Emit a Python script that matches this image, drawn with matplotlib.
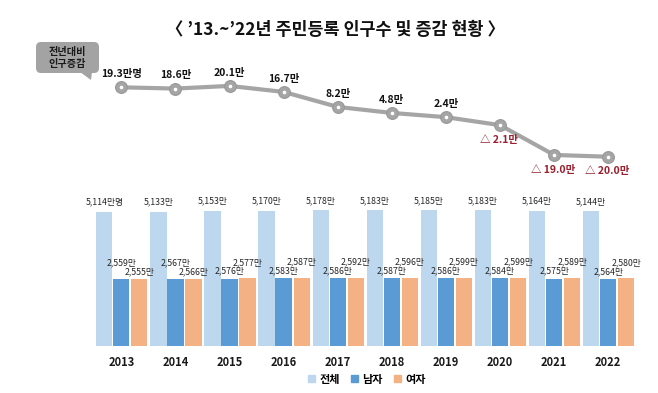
import matplotlib
matplotlib.use("Agg")
import matplotlib.pyplot as plt
from matplotlib.patches import FancyBboxPatch, Polygon, Patch
import numpy as np

plt.rcParams['font.family'] = ['Noto Sans CJK KR', 'DejaVu Sans']

years = ['2013', '2014', '2015', '2016', '2017', '2018', '2019', '2020', '2021', '2022']
change = [19.3, 18.6, 20.1, 16.7, 8.2, 4.8, 2.4, -2.1, -19.0, -20.0]
total = [5114, 5133, 5153, 5170, 5178, 5183, 5185, 5183, 5164, 5144]
male = [2559, 2567, 2576, 2583, 2586, 2587, 2586, 2584, 2575, 2564]
female = [2555, 2566, 2577, 2587, 2592, 2596, 2599, 2599, 2589, 2580]
series_names = ['전체', '남자', '여자']
title = '〈 \u201913.~\u201922년 주민등록 인구수 및 증감 현황 〉'
callout_lines = ['전년대비', '인구증감']

c_total = '#bdd7ee'
c_male = '#5b9bd5'
c_female = '#f4b183'
c_line = '#a5a5a5'
c_neg = '#9c1f2e'

W, H = 658, 393
fig = plt.figure(figsize=(W / 100, H / 100), dpi=100)
fig.patch.set_facecolor('white')

def frac(left, top, right, bottom):
    return [left / W, 1 - bottom / H, (right - left) / W, (bottom - top) / H]

x = np.arange(len(years))

# ---- bar chart ----
axb = fig.add_axes(frac(94.25, 190, 635.25, 346))
bw = 0.30
off = 0.314
axb.bar(x - off, total, width=bw, color=c_total)
axb.bar(x, male, width=bw, color=c_male)
axb.bar(x + off + 0.02, female, width=bw, color=c_female)
axb.set_xlim(-0.5, len(years) - 0.5)
axb.set_ylim(0, 5954)
for s in axb.spines.values():
    s.set_visible(False)
axb.set_yticks([])
axb.set_xticks(x)
axb.set_xticklabels(years, fontsize=8, fontweight='bold', color='#1a1a1a')
axb.tick_params(axis='x', length=0, pad=7)

lab_kw = dict(ha='center', va='center', fontsize=6.3, color='#262626',
              textcoords='offset points')
for i in range(len(years)):
    t = f"{total[i]:,}만" + ('명' if i == 0 else '')
    axb.annotate(t, (x[i] - off, total[i]), xytext=(0, 7), **lab_kw)
    hi, lo = 11.5, 5.3
    m_off = hi if male[i] > female[i] else lo
    f_off = hi if female[i] >= male[i] else lo
    axb.annotate(f"{male[i]:,}만", (x[i], male[i]), xytext=(0, m_off), **lab_kw)
    axb.annotate(f"{female[i]:,}만", (x[i] + off + 0.02, female[i]), xytext=(0, f_off), **lab_kw)

# ---- line chart ----
axl = fig.add_axes(frac(94.25, 60, 635.25, 175))
axl.patch.set_alpha(0)
axl.plot(x, change, color=c_line, lw=3.0, marker='o', ms=8.5,
         mfc=c_line, mec='#999999', mew=0.8, solid_capstyle='round', zorder=2)
axl.plot(x, change, ls='none', marker='o', ms=1.6, mfc='white', mec='white', zorder=3)
axl.set_xlim(-0.5, len(years) - 0.5)
axl.set_ylim(-30.35, 34.77)
axl.axis('off')
for i, v in enumerate(change):
    if v >= 0:
        t = f"{v:.1f}만" + ('명' if i == 0 else '')
        axl.annotate(t, (x[i], v), xytext=(0, 9.5), textcoords='offset points',
                     ha='center', va='center', fontsize=7.5, fontweight='bold',
                     color='#111111')
    else:
        t = f"△ {abs(v):.1f}만"
        axl.annotate(t, (x[i], v), xytext=(-1, -10.5), textcoords='offset points',
                     ha='center', va='center', fontsize=7.5, fontweight='bold',
                     color=c_neg)

# ---- overlay for decorations ----
ov = fig.add_axes([0, 0, 1, 1])
ov.set_xlim(0, W)
ov.set_ylim(H, 0)
ov.axis('off')
ov.patch.set_alpha(0)

ov.text(335, 30, title, ha='center', va='center', fontsize=12.5,
        fontweight='bold', color='#111111')

box = FancyBboxPatch((38, 44), 59, 27, boxstyle='round,pad=2,rounding_size=5',
                     fc='#a3a3a3', ec='none')
ov.add_patch(box)
ov.add_patch(Polygon([[80, 72], [92, 72], [91, 80]], closed=True,
                     fc='#a3a3a3', ec='none'))
ov.text(67.5, 52.0, callout_lines[0], ha='center', va='center', fontsize=7.3,
        fontweight='bold', color='#1a1a1a')
ov.text(67.5, 64.0, callout_lines[1], ha='center', va='center', fontsize=7.3,
        fontweight='bold', color='#1a1a1a')

handles = [Patch(color=c) for c in (c_total, c_male, c_female)]
fig.legend(handles, series_names, loc='center', bbox_to_anchor=(367 / W, 1 - 379 / H),
           ncol=3, frameon=False, handlelength=0.6, handleheight=0.6,
           handletextpad=0.4, columnspacing=1.0,
           prop={'weight': 'bold', 'size': 8})

fig.savefig('out.png', dpi=100, facecolor='white')
